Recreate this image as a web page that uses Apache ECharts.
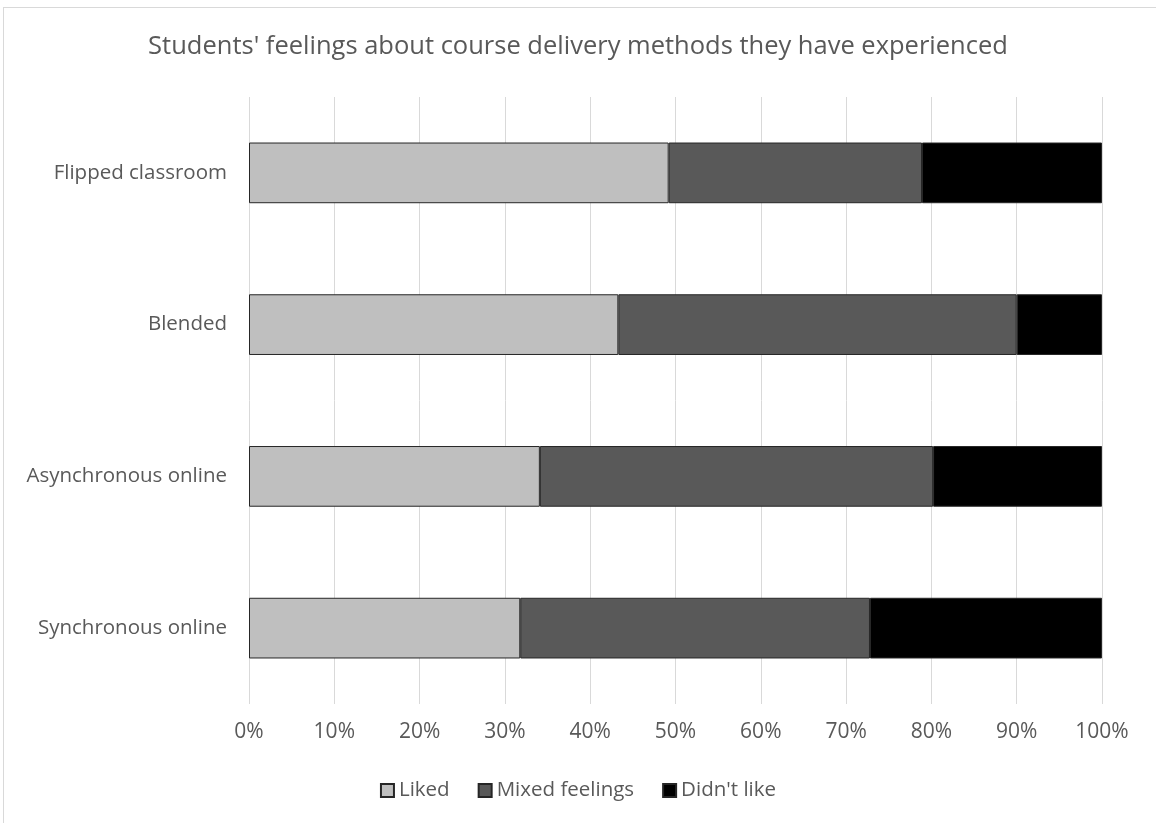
<!DOCTYPE html>
<html><head><meta charset="utf-8">
<script src="https://cdn.jsdelivr.net/npm/echarts@6/dist/echarts.min.js"></script>
<style>
html,body{margin:0;padding:0;background:#fff;}
#frame{position:absolute;left:3px;top:7px;width:1160px;height:830px;border:1px solid #d9d9d9;box-sizing:border-box;}
#chart{position:absolute;left:0;top:0;width:1156px;height:823px;}
</style></head>
<body>
<div id="frame"></div>
<div id="chart"></div>
<script>
const categories = ['Synchronous online', 'Asynchronous online', 'Blended', 'Flipped classroom'];
const liked = [31.8, 34.1, 43.3, 49.2];
const mixed = [41.0, 46.1, 46.7, 29.7];
const didntLike = [27.2, 19.8, 10.0, 21.1];
const xTicks = [0, 10, 20, 30, 40, 50, 60, 70, 80, 90, 100];

const font = 'Open Sans';
const txt = '#595959';
const chart = echarts.init(document.getElementById('chart'));
function s(name, data, color) {
  return {
    name, type: 'bar', stack: 'all', data,
    barCategoryGap: '60%',
    itemStyle: { color, borderColor: '#262626', borderWidth: 1 },
    emphasis: { disabled: true }
  };
}
chart.setOption({
  animation: false,
  title: {
    text: "Students' feelings about course delivery methods they have experienced",
    left: 'center', top: 29,
    textStyle: { fontFamily: font, fontSize: 25.5, fontWeight: 'normal', color: txt }
  },
  legend: {
    top: 775, left: 'center', itemWidth: 13, itemHeight: 13, itemGap: 28,
    icon: 'rect',
    textStyle: { fontFamily: font, fontSize: 20.5, color: txt, padding: [0, 0, 0, 0] },
    data: ['Liked', 'Mixed feelings', "Didn't like"]
  },
  grid: { left: 249, right: 54, top: 97, bottom: 119, containLabel: false },
  xAxis: {
    type: 'value', min: 0, max: 100, interval: 10,
    axisLine: { show: false }, axisTick: { show: false },
    splitLine: { lineStyle: { color: '#d9d9d9', width: 1 } },
    axisLabel: { formatter: v => xTicks.includes(v) ? v + '%' : '', fontFamily: font, fontSize: 21, color: txt, margin: 18 }
  },
  yAxis: {
    type: 'category', data: categories,
    axisLine: { show: false }, axisTick: { show: false },
    axisLabel: { fontFamily: font, fontSize: 20.5, color: txt, margin: 22 }
  },
  series: [
    s('Liked', liked, '#bfbfbf'),
    s('Mixed feelings', mixed, '#595959'),
    s("Didn't like", didntLike, '#000000')
  ]
});
</script>
</body></html>
